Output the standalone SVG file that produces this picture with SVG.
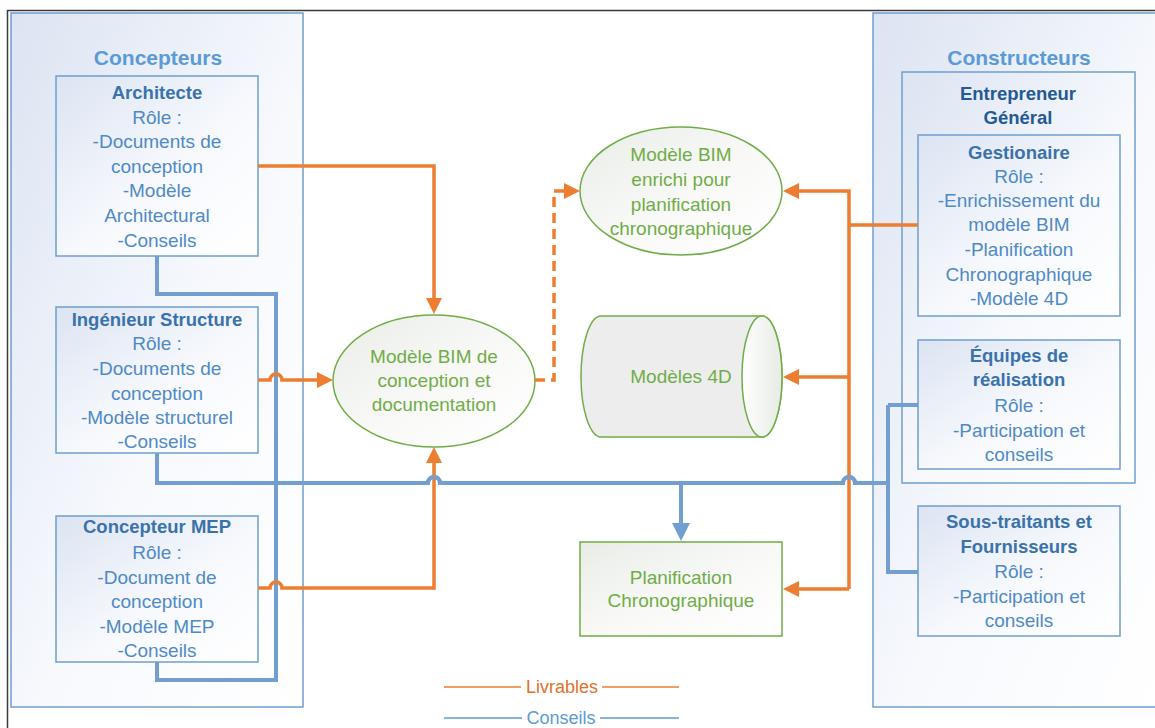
<svg xmlns="http://www.w3.org/2000/svg" width="1155" height="728" viewBox="0 0 1155 728">
  <defs>
    <linearGradient id="gBlue" x1="0" y1="0" x2="1" y2="1">
      <stop offset="0" stop-color="#DCE4F2"/>
      <stop offset="0.55" stop-color="#F7F9FD"/>
      <stop offset="1" stop-color="#FFFFFF"/>
    </linearGradient>
    <linearGradient id="gGreen" x1="0" y1="0" x2="1" y2="1">
      <stop offset="0" stop-color="#E8ECE6"/>
      <stop offset="0.5" stop-color="#F8F9F7"/>
      <stop offset="1" stop-color="#FFFFFF"/>
    </linearGradient>
    <linearGradient id="gCap" x1="0" y1="0" x2="1" y2="0">
      <stop offset="0" stop-color="#FFFFFF"/>
      <stop offset="1" stop-color="#E6EBE4"/>
    </linearGradient>
    <marker id="arrO" markerUnits="userSpaceOnUse" markerWidth="16" markerHeight="16" viewBox="0 0 16 16" refX="1" refY="8" orient="auto">
      <path d="M0,0 L16,8 L0,16 Z" fill="#ED7D31"/>
    </marker>
    <marker id="arrB" markerUnits="userSpaceOnUse" markerWidth="18" markerHeight="18" viewBox="0 0 18 18" refX="1" refY="9" orient="auto">
      <path d="M0,0 L18,9 L0,18 Z" fill="#729FCF"/>
    </marker>
    <style>
      .grp { fill: url(#gBlue); stroke: #6F9FD0; stroke-width: 1.5; }
      .box { fill: url(#gBlue); stroke: #6F9FD0; stroke-width: 1.5; }
      .gshape { fill: url(#gGreen); stroke: #70AD47; stroke-width: 1.5; }
      text { font-family: "Liberation Sans", Arial, sans-serif; text-anchor: middle; }
      .gtitle { font-size: 21px; font-weight: bold; fill: #5B9BD5; }
      .ntitle { font-size: 18.5px; font-weight: bold; fill: #3A72AC; }
      .etitle { font-size: 18.5px; font-weight: bold; fill: #245A93; }
      .body { font-size: 19px; fill: #4F8AC6; }
      .gtxt { font-size: 19px; fill: #70AD47; }
      .liv { stroke: #ED7D31; stroke-width: 3.5; fill: none; }
      .con { stroke: #729FCF; stroke-width: 4; fill: none; }
      .leg { stroke-width: 1.5; }
    </style>
  </defs>

  <!-- outer frame -->
  <path d="M7.5,728 V10.5 H1155" fill="none" stroke="#3A3A3A" stroke-width="1.5"/>

  <!-- Concepteurs -->
  <g id="concepteurs">
    <rect class="grp" x="11" y="13" width="292" height="694"/>
    <text class="gtitle" x="158" y="65">Concepteurs</text>
  </g>

  <g id="architecte">
    <rect class="box" x="56" y="76" width="202" height="180"/>
    <text class="ntitle" x="157" y="99">Architecte</text>
    <text class="body" x="157" y="124">Rôle :</text>
    <text class="body" x="157" y="148">-Documents de</text>
    <text class="body" x="157" y="173">conception</text>
    <text class="body" x="157" y="197">-Modèle</text>
    <text class="body" x="157" y="222">Architectural</text>
    <text class="body" x="157" y="247">-Conseils</text>
  </g>

  <g id="ingenieur-structure">
    <rect class="box" x="56" y="307" width="202" height="146"/>
    <text class="ntitle" x="157" y="326">Ingénieur Structure</text>
    <text class="body" x="157" y="350">Rôle :</text>
    <text class="body" x="157" y="375">-Documents de</text>
    <text class="body" x="157" y="400">conception</text>
    <text class="body" x="157" y="424">-Modèle structurel</text>
    <text class="body" x="157" y="448">-Conseils</text>
  </g>

  <g id="concepteur-mep">
    <rect class="box" x="56" y="516" width="202" height="146"/>
    <text class="ntitle" x="157" y="533">Concepteur MEP</text>
    <text class="body" x="157" y="559">Rôle :</text>
    <text class="body" x="157" y="584">-Document de</text>
    <text class="body" x="157" y="608">conception</text>
    <text class="body" x="157" y="633">-Modèle MEP</text>
    <text class="body" x="157" y="657">-Conseils</text>
  </g>

  <!-- Constructeurs -->
  <g id="constructeurs">
    <rect class="grp" x="873" y="13" width="290" height="694"/>
    <text class="gtitle" x="1019" y="65">Constructeurs</text>
  </g>

  <g id="entrepreneur-general">
    <rect class="box" x="902" y="72" width="233" height="411"/>
    <text class="etitle" x="1018" y="100">Entrepreneur</text>
    <text class="etitle" x="1018" y="124">Général</text>
  </g>

  <g id="gestionaire">
    <rect class="box" x="918" y="135" width="202" height="181"/>
    <text class="ntitle" x="1019" y="159">Gestionaire</text>
    <text class="body" x="1019" y="183">Rôle :</text>
    <text class="body" x="1019" y="207">-Enrichissement du</text>
    <text class="body" x="1019" y="231">modèle BIM</text>
    <text class="body" x="1019" y="256">-Planification</text>
    <text class="body" x="1019" y="281">Chronographique</text>
    <text class="body" x="1019" y="305">-Modèle 4D</text>
  </g>

  <g id="equipes-realisation">
    <rect class="box" x="918" y="340" width="202" height="129"/>
    <text class="ntitle" x="1019" y="362">Équipes de</text>
    <text class="ntitle" x="1019" y="386">réalisation</text>
    <text class="body" x="1019" y="412">Rôle :</text>
    <text class="body" x="1019" y="437">-Participation et</text>
    <text class="body" x="1019" y="461">conseils</text>
  </g>

  <g id="sous-traitants">
    <rect class="box" x="918" y="506" width="202" height="130"/>
    <text class="ntitle" x="1019" y="528">Sous-traitants et</text>
    <text class="ntitle" x="1019" y="553">Fournisseurs</text>
    <text class="body" x="1019" y="578">Rôle :</text>
    <text class="body" x="1019" y="603">-Participation et</text>
    <text class="body" x="1019" y="627">conseils</text>
  </g>

  <!-- central models -->
  <g id="bim-conception">
    <ellipse class="gshape" cx="434" cy="381" rx="101" ry="66"/>
    <text class="gtxt" x="434" y="363">Modèle BIM de</text>
    <text class="gtxt" x="434" y="387">conception et</text>
    <text class="gtxt" x="434" y="411">documentation</text>
  </g>

  <g id="bim-enrichi">
    <ellipse class="gshape" cx="681" cy="191" rx="101" ry="64"/>
    <text class="gtxt" x="681" y="161">Modèle BIM</text>
    <text class="gtxt" x="681" y="186">enrichi pour</text>
    <text class="gtxt" x="681" y="211">planification</text>
    <text class="gtxt" x="681" y="235">chronographique</text>
  </g>

  <g id="modeles-4d">
    <path d="M601,316 H762 A20,60.5 0 0 1 762,437 H601 A20,60.5 0 0 1 601,316 Z" fill="#EDEDED" stroke="#70AD47" stroke-width="1.5"/>
    <ellipse cx="762" cy="376.5" rx="20" ry="60.5" fill="url(#gCap)" stroke="#70AD47" stroke-width="1.5"/>
    <text class="gtxt" x="681" y="383">Modèles 4D</text>
  </g>

  <g id="planification">
    <rect class="gshape" x="580" y="542" width="202" height="94"/>
    <text class="gtxt" x="681" y="584">Planification</text>
    <text class="gtxt" x="681" y="607">Chronographique</text>
  </g>

  <!-- connectors -->
  <g id="connectors">
    <!-- Conseils (blue) -->
    <path class="con" d="M157,256 V294 H276 V680 H157 V662"/>
    <path class="con" d="M157,453 V483 H428 A6,6 0 0 1 440,483 H843 A6,6 0 0 1 855,483 H888"/>
    <path class="con" d="M888,405 H918 M888,405 V572 H918"/>
    <path class="con" d="M681,483 V524" marker-end="url(#arrB)"/>

    <!-- Livrables (orange) -->
    <path class="liv" d="M258,166 H434 V299" marker-end="url(#arrO)"/>
    <path class="liv" d="M258,380 H270 A6,6 0 0 1 282,380 H318" marker-end="url(#arrO)"/>
    <path class="liv" d="M258,588 H270 A6,6 0 0 1 282,588 H434 V462" marker-end="url(#arrO)"/>
    <path class="liv" d="M535,380 H554 V191 H565" stroke-dasharray="10,6" marker-end="url(#arrO)"/>
    <path class="liv" d="M918,225 H849"/>
    <path class="liv" d="M849,589 V191 H798" marker-end="url(#arrO)"/>
    <path class="liv" d="M849,377 H798" marker-end="url(#arrO)"/>
    <path class="liv" d="M849,589 H798" marker-end="url(#arrO)"/>
    <!-- blue hops drawn above the orange verticals -->
    <path class="con" d="M426,483 H428 A6,6 0 0 1 440,483 H442"/>
    <path class="con" d="M841,483 H843 A6,6 0 0 1 855,483 H857"/>
  </g>

  <!-- legend -->
  <g id="legend">
    <line class="leg" x1="444" y1="687" x2="521" y2="687" stroke="#ED7D31"/>
    <line class="leg" x1="602" y1="687" x2="679" y2="687" stroke="#ED7D31"/>
    <text x="562" y="693" font-size="18" fill="#E0702A">Livrables</text>
    <line class="leg" x1="444" y1="718" x2="522" y2="718" stroke="#5B9BD5"/>
    <line class="leg" x1="600" y1="718" x2="679" y2="718" stroke="#5B9BD5"/>
    <text x="561" y="724" font-size="18" fill="#5B9BD5">Conseils</text>
  </g>
</svg>
